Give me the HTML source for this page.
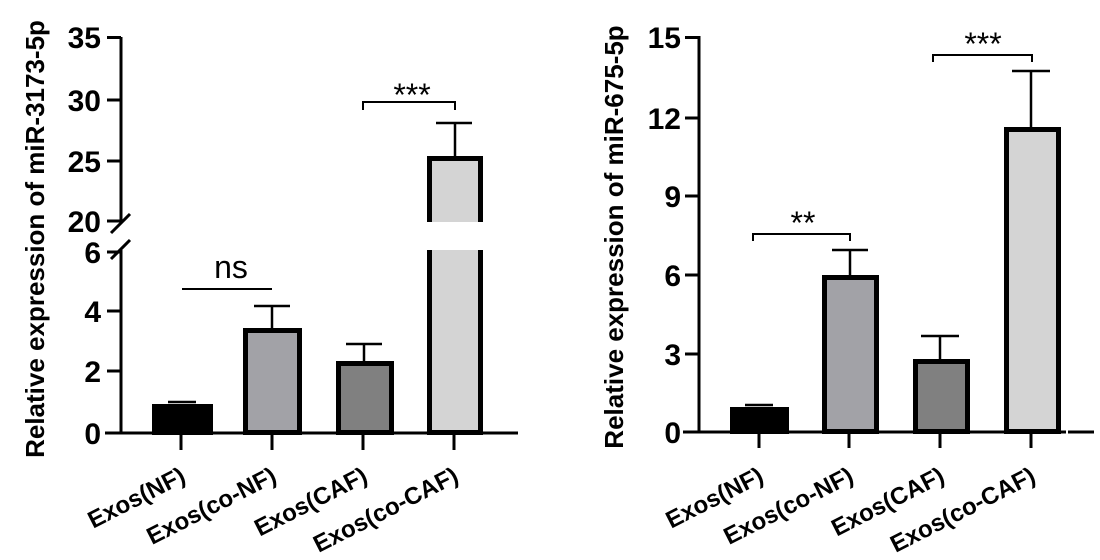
<!DOCTYPE html>
<html><head><meta charset="utf-8"><style>
html,body{margin:0;padding:0;background:#fff;}
svg{display:block;}
text{font-family:"Liberation Sans",Arial,sans-serif;}
.t{font-weight:bold;font-size:30px;text-anchor:end;}
.xl{font-weight:bold;font-size:24px;text-anchor:end;}
.yl{font-weight:bold;font-size:26px;text-anchor:middle;}
</style></head><body>
<svg width="1100" height="560" viewBox="0 0 1100 560" xmlns="http://www.w3.org/2000/svg">
<!-- LEFT CHART -->
<g stroke="#000" stroke-width="3" fill="none">
  <line x1="121" y1="37" x2="121" y2="222"/>
  <line x1="121" y1="250" x2="121" y2="433"/>
  <line x1="111" y1="233" x2="130" y2="214"/>
  <line x1="111" y1="259" x2="130" y2="240"/>
  <line x1="105" y1="433" x2="518" y2="433"/>
  <line x1="107" y1="37.5" x2="121" y2="37.5"/>
  <line x1="107" y1="100" x2="121" y2="100"/>
  <line x1="107" y1="161" x2="121" y2="161"/>
  <line x1="107" y1="221" x2="121" y2="221"/>
  <line x1="107" y1="252" x2="121" y2="252"/>
  <line x1="107" y1="311" x2="121" y2="311"/>
  <line x1="107" y1="371" x2="121" y2="371"/>
  <line x1="181" y1="433" x2="181" y2="450"/>
  <line x1="272" y1="433" x2="272" y2="450"/>
  <line x1="363" y1="433" x2="363" y2="450"/>
  <line x1="454" y1="433" x2="454" y2="450"/>
</g>
<text class="t" x="101" y="48">35</text>
<text class="t" x="101" y="111">30</text>
<text class="t" x="101" y="172">25</text>
<text class="t" x="101" y="232">20</text>
<text class="t" x="101" y="263">6</text>
<text class="t" x="101" y="322">4</text>
<text class="t" x="101" y="382">2</text>
<text class="t" x="101" y="444">0</text>
<g stroke="#000" stroke-width="2.5" fill="none">
  <line x1="168" y1="402" x2="196" y2="402"/>
  <line x1="272" y1="306" x2="272" y2="328"/><line x1="254" y1="306" x2="290" y2="306"/>
  <line x1="364" y1="344" x2="364" y2="361"/><line x1="346" y1="344" x2="382" y2="344"/>
  <line x1="455" y1="123" x2="455" y2="156"/><line x1="436" y1="123" x2="472" y2="123"/>
</g>
<g stroke="#000" stroke-width="5">
  <rect x="154.5" y="406.5" width="56" height="26" fill="#000"/>
  <rect x="245.5" y="330.5" width="54" height="102" fill="#a2a2a7"/>
  <rect x="338.5" y="363.5" width="53" height="69" fill="#808080"/>
  <rect x="429.5" y="158.5" width="51" height="274" fill="#d4d4d4"/>
</g>
<rect x="420" y="222" width="70" height="28" fill="#fff"/>
<g stroke="#000" stroke-width="2" fill="none">
  <line x1="182" y1="289" x2="272" y2="289"/>
  <polyline points="363,110 363,102 455,102 455,110"/>
</g>
<text x="231" y="278" font-size="32" text-anchor="middle">ns</text>
<text x="412" y="106" font-size="32" text-anchor="middle">***</text>
<text class="yl" transform="translate(44,239) rotate(-90)">Relative expression of miR-3173-5p</text>
<text class="xl" transform="translate(187,481) rotate(-27)">Exos(NF)</text>
<text class="xl" transform="translate(278,481) rotate(-27)">Exos(co-NF)</text>
<text class="xl" transform="translate(369,481) rotate(-27)">Exos(CAF)</text>
<text class="xl" transform="translate(460,481) rotate(-27)">Exos(co-CAF)</text>

<!-- RIGHT CHART -->
<g stroke="#000" stroke-width="3" fill="none">
  <line x1="699" y1="36" x2="699" y2="433"/>
  <line x1="683" y1="432" x2="1066" y2="432"/>
  <line x1="1068" y1="432" x2="1094" y2="432"/>
  <line x1="685" y1="37.5" x2="699" y2="37.5"/>
  <line x1="685" y1="118" x2="699" y2="118"/>
  <line x1="685" y1="196" x2="699" y2="196"/>
  <line x1="685" y1="275" x2="699" y2="275"/>
  <line x1="685" y1="354" x2="699" y2="354"/>
  <line x1="759" y1="432" x2="759" y2="448"/>
  <line x1="849" y1="432" x2="849" y2="448"/>
  <line x1="940" y1="432" x2="940" y2="448"/>
  <line x1="1031" y1="432" x2="1031" y2="448"/>
</g>
<text class="t" x="681" y="48">15</text>
<text class="t" x="681" y="129">12</text>
<text class="t" x="681" y="207">9</text>
<text class="t" x="681" y="286">6</text>
<text class="t" x="681" y="365">3</text>
<text class="t" x="681" y="443">0</text>
<g stroke="#000" stroke-width="2.5" fill="none">
  <line x1="745" y1="405" x2="773" y2="405"/>
  <line x1="850" y1="250" x2="850" y2="275"/><line x1="832" y1="250" x2="868" y2="250"/>
  <line x1="940" y1="336" x2="940" y2="359"/><line x1="921" y1="336" x2="959" y2="336"/>
  <line x1="1031" y1="71" x2="1031" y2="127"/><line x1="1012" y1="71" x2="1050" y2="71"/>
</g>
<g stroke="#000" stroke-width="5">
  <rect x="732.5" y="409.5" width="54" height="22" fill="#000"/>
  <rect x="824.5" y="277.5" width="52" height="154" fill="#a2a2a7"/>
  <rect x="915.5" y="361.5" width="52" height="70" fill="#808080"/>
  <rect x="1006.5" y="129.5" width="52" height="302" fill="#d4d4d4"/>
</g>
<g stroke="#000" stroke-width="2" fill="none">
  <polyline points="753,241 753,234 850,234 850,241"/>
  <polyline points="933,62 933,55 1032,55 1032,62"/>
</g>
<text x="803" y="234" font-size="32" text-anchor="middle">**</text>
<text x="983" y="55" font-size="32" text-anchor="middle">***</text>
<text class="yl" transform="translate(623,237) rotate(-90)">Relative expression of miR-675-5p</text>
<text class="xl" transform="translate(765,481) rotate(-27)">Exos(NF)</text>
<text class="xl" transform="translate(855,481) rotate(-27)">Exos(co-NF)</text>
<text class="xl" transform="translate(946,481) rotate(-27)">Exos(CAF)</text>
<text class="xl" transform="translate(1037,481) rotate(-27)">Exos(co-CAF)</text>
</svg>
</body></html>
